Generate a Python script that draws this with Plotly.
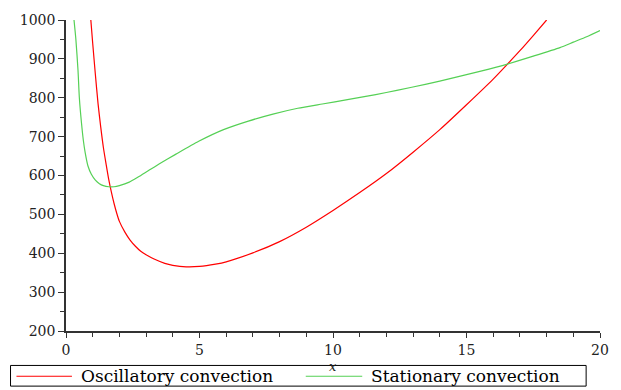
import plotly.graph_objects as go

# Oscillatory convection (red)
osc_x = [0.93, 1.0, 1.1, 1.2, 1.3, 1.4, 1.5, 1.6, 1.7, 1.8, 1.9, 2.0, 2.2, 2.4, 2.6, 2.8,
         3.0, 3.3, 3.7, 4.0, 4.5, 5.0, 5.6, 6.0, 7.0, 8.0, 9.0, 10.0, 11.0, 12.0, 13.0,
         14.0, 15.0, 16.0, 16.5, 17.0, 17.5, 18.0]
osc_y = [1000, 940, 860, 785, 725, 672, 630, 590, 557, 528, 503, 482, 455, 434, 418, 405,
         396, 385, 374, 369, 365, 366, 372, 378, 401, 430, 467, 510, 556, 605, 660,
         718, 782, 848, 884, 921, 960, 1000]

# Stationary convection (green)
sta_x = [0.30, 0.37, 0.45, 0.50, 0.58, 0.65, 0.72, 0.82, 0.95, 1.1, 1.25, 1.4, 1.6, 1.8,
         2.0, 2.37, 2.7, 3.12, 3.5, 4.12, 4.97, 5.9, 6.83, 7.75, 8.68, 9.6, 10.54, 11.6,
         12.39, 13.5, 14.5, 15.5, 16.5, 17.5, 18.5, 19.0, 19.5, 20.0]
sta_y = [1000, 950, 870, 800, 735, 690, 658, 625, 603, 588, 579, 574, 571, 571,
         574, 583, 596, 614, 630, 655, 688, 718, 740, 758, 773, 784, 795, 808,
         819, 835, 851, 868, 886, 907, 929, 943, 957, 973]

x_ticks = [0, 5, 10, 15, 20]
y_ticks = [200, 300, 400, 500, 600, 700, 800, 900, 1000]

series_names = ["Oscillatory convection", "Stationary convection"]
series_colors = ["#ff0000", "#55d055"]

fig = go.Figure()
fig.add_trace(go.Scatter(x=osc_x, y=osc_y, mode="lines", name=series_names[0],
                         line=dict(color=series_colors[0], width=1.2, shape="spline", smoothing=0.6)))
fig.add_trace(go.Scatter(x=sta_x, y=sta_y, mode="lines", name=series_names[1],
                         line=dict(color=series_colors[1], width=1.2, shape="spline", smoothing=0.6)))

# Hand-drawn legend below the plot (paper coordinates)
L, R, T, B = 66, 605, 15, 331
def px(xp):
    return (xp - L) / (R - L)
def py(yp):
    return (B - yp) / (B - T)

shapes = [
    dict(type="rect", xref="paper", yref="paper", x0=px(10), x1=px(591), y0=py(366), y1=py(387),
         line=dict(color="black", width=1), fillcolor="white", layer="below"),
    dict(type="line", xref="paper", yref="paper", x0=px(16), x1=px(72), y0=py(377), y1=py(377),
         line=dict(color=series_colors[0], width=1.2)),
    dict(type="line", xref="paper", yref="paper", x0=px(308), x1=px(365), y0=py(377), y1=py(377),
         line=dict(color=series_colors[1], width=1.2)),
]
legfont = dict(family="DejaVu Serif", size=17, color="black")
annotations = [
    dict(text=series_names[0], xref="paper", yref="paper", x=px(79), y=py(377),
         xanchor="left", yanchor="middle", showarrow=False, font=legfont),
    dict(text=series_names[1], xref="paper", yref="paper", x=px(372), y=py(377),
         xanchor="left", yanchor="middle", showarrow=False, font=legfont),
    dict(text="<i>x</i>", xref="paper", yref="paper", x=px(336), y=py(357),
         xanchor="center", yanchor="top", showarrow=False,
         font=dict(family="DejaVu Serif", size=13, color="#222")),
]

tickfont = dict(family="DejaVu Serif", size=14, color="#222222")
fig.update_layout(
    width=621, height=390,
    margin=dict(l=L, r=621 - R, t=T, b=390 - B),
    paper_bgcolor="white", plot_bgcolor="white",
    showlegend=False,
    shapes=shapes, annotations=annotations,
    xaxis=dict(range=[0, 20], tickvals=x_ticks, ticks="outside", ticklen=5, tickwidth=1,
               tickcolor="#333", showline=True, linecolor="#333", linewidth=1.5,
               showgrid=False, zeroline=False, tickfont=tickfont,
               minor=dict(dtick=1, ticks="outside", ticklen=4, tickcolor="#333", showgrid=False)),
    yaxis=dict(range=[200, 1000], tickvals=y_ticks, ticks="outside", ticklen=6, tickwidth=1,
               tickcolor="#333", showline=True, linecolor="#333", linewidth=1.5,
               showgrid=False, zeroline=False, tickfont=tickfont,
               minor=dict(dtick=50, ticks="outside", ticklen=4, tickcolor="#333", showgrid=False)),
)

fig.write_html("out.html")
